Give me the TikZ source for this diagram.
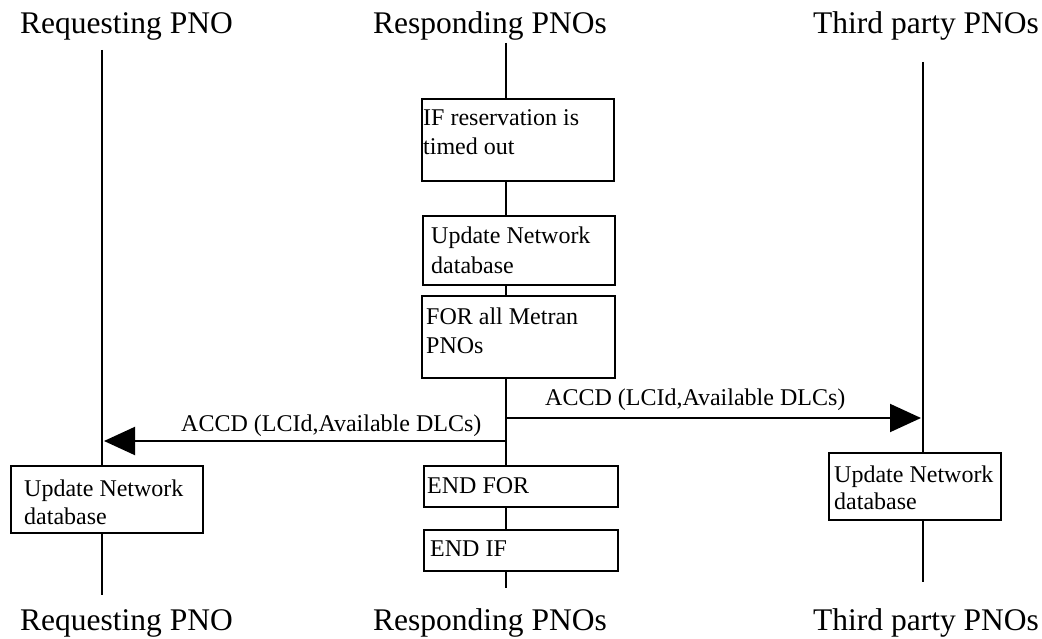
\documentclass[tikz,border=0pt]{standalone}
\usepackage{fontspec}
\setmainfont{Liberation Serif}
\usetikzlibrary{arrows.meta}
\begin{document}
\begin{tikzpicture}[x=1pt,y=-1pt,
 life/.style={line width=2pt},
 box/.style={draw, line width=2pt, fill=white, inner sep=0pt, anchor=north west},
 txt/.style={inner sep=0pt, anchor=base west, font=\fontsize{24}{28.5}\selectfont},
 head/.style={inner sep=0pt, anchor=base west, font=\fontsize{31.5}{36}\selectfont},
 msg/.style={line width=2pt, -{Triangle[length=31pt,width=28pt]}}]
\useasboundingbox (0,0) rectangle (1042,639);
% headers and footers
\node[head] (hreq) at (20,34) {Requesting PNO};
\node[head] (hres) at (373,34) {Responding PNOs};
\node[head] (hthr) at (813,34) {Third party PNOs};
\node[head] (freq) at (20,630) {Requesting PNO};
\node[head] (fres) at (373,630) {Responding PNOs};
\node[head] (fthr) at (813,630) {Third party PNOs};
% lifelines
\coordinate (lt) at (102,50);  \coordinate (lb) at (102,595);
\coordinate (mt) at (506,43);  \coordinate (mb) at (506,588);
\coordinate (rt) at (923,62);  \coordinate (rb) at (923,582);
\draw[life] (lt) -- (lb);
\draw[life] (mt) -- (mb);
\draw[life] (rt) -- (rb);
% boxes
\node[box, minimum width=192pt, minimum height=82pt] (ifbox) at (421,98) {};
\node[txt] (iftxta) at (423,126) {IF reservation is};
\node[txt] (iftxtb) at (423,155) {timed out};
\node[box, minimum width=192pt, minimum height=69pt] (upd2) at (422,215) {};
\node[txt] (upd2txta) at (431,244) {Update Network};
\node[txt] (upd2txtb) at (431,273) {database};
\node[box, minimum width=193pt, minimum height=82pt] (forbox) at (421,295) {};
\node[txt] (fortxta) at (426,324) {FOR all Metran};
\node[txt] (fortxtb) at (426,353) {PNOs};
\node[box, minimum width=194pt, minimum height=41pt] (endfor) at (423,465) {};
\node[txt] (endfortxt) at (427,493) {END FOR};
\node[box, minimum width=194pt, minimum height=41pt] (endif) at (423,529) {};
\node[txt] (endiftxt) at (430,556) {END IF};
\node[box, minimum width=192pt, minimum height=67pt] (upd1) at (10,465) {};
\node[txt] (upd1txta) at (24,496) {Update Network};
\node[txt] (upd1txtb) at (24,524) {database};
\node[box, minimum width=172pt, minimum height=67pt] (upd3) at (828,452) {};
\node[txt] (upd3txta) at (834,482) {Update Network};
\node[txt] (upd3txtb) at (834,509) {database};
% messages
\coordinate (m1) at (506,418); \coordinate (r1) at (921,418);
\coordinate (m2) at (506,441); \coordinate (l2) at (104,441);
\draw[msg] (m1) -- (r1);
\draw[msg] (m2) -- (l2);
\node[txt] (lab1) at (545,405) {ACCD (LCId,Available DLCs)};
\node[txt] (lab2) at (181,431) {ACCD (LCId,Available DLCs)};
\end{tikzpicture}
\end{document}
